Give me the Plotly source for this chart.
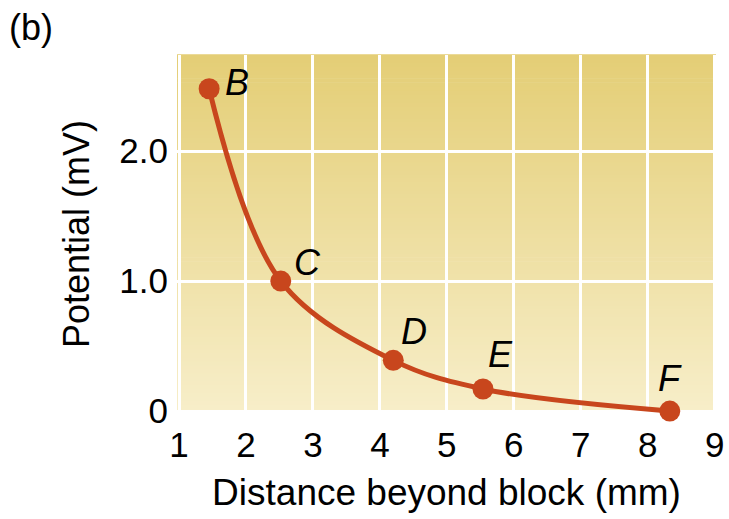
import plotly.graph_objects as go

# Measured potential beyond the block
point_labels = ["B", "C", "D", "E", "F"]
distance_mm = [1.45, 2.52, 4.2, 5.54, 8.33]
potential_mv = [2.48, 1.0, 0.39, 0.17, 0.0]

x_ticks = [1, 2, 3, 4, 5, 6, 7, 8, 9]
y_ticks = [0, 1, 2]
y_tick_text = ["0", "1.0", "2.0"]

# label offsets (px) relative to each point
label_dx = [28, 27, 21, 18, 0]
label_dy = [6, 19, 29, 34, 33]

FONT = "Liberation Sans, Arial, Helvetica, sans-serif"
CURVE = "#C8461D"

x_range = [0.97, 9.02]
y_range = [-0.015, 2.74]

fig = go.Figure()

fig.add_trace(go.Scatter(
    x=distance_mm, y=potential_mv,
    mode="lines+markers",
    line=dict(color=CURVE, width=5, shape="spline", smoothing=1.0),
    marker=dict(color=CURVE, size=21),
    cliponaxis=False,
    hoverinfo="skip",
    showlegend=False,
))

# vertical yellow gradient for the plotting area, as thin bands
top_rgb = (228, 206, 118)
bot_rgb = (247, 238, 201)
n_bands = 90
shapes = []
for i in range(n_bands):
    t = i / (n_bands - 1)
    r, g, b = (round(bot_rgb[k] + (top_rgb[k] - bot_rgb[k]) * t) for k in range(3))
    shapes.append(dict(
        type="rect", xref="paper", yref="paper",
        x0=0, x1=1, y0=i / n_bands, y1=(i + 1) / n_bands + 0.002,
        fillcolor=f"rgb({r},{g},{b})", line=dict(width=0), layer="below",
    ))

annotations = []
for lab, x, y, dx, dy in zip(point_labels, distance_mm, potential_mv, label_dx, label_dy):
    annotations.append(dict(
        x=x, y=y, xref="x", yref="y", text=f"<i>{lab}</i>", showarrow=False,
        xshift=dx, yshift=dy, font=dict(family=FONT, size=36, color="black"),
    ))
annotations.append(dict(
    x=0, y=1, xref="paper", yref="paper", xanchor="left", yanchor="top",
    xshift=-170, yshift=50, text="(b)", showarrow=False,
    font=dict(family=FONT, size=36, color="black"),
))

fig.update_layout(
    width=729, height=519,
    margin=dict(l=177, r=13, t=55, b=106),
    paper_bgcolor="white",
    plot_bgcolor="rgba(0,0,0,0)",
    shapes=shapes,
    annotations=annotations,
    font=dict(family=FONT, color="black"),
    xaxis=dict(
        range=x_range, tickvals=x_ticks, showgrid=True, automargin=False,
        gridcolor="white", gridwidth=2.5, zeroline=False, showline=False,
        ticks="", tickfont=dict(size=35), ticklabelstandoff=8,
        title=dict(text="Distance beyond block (mm)", font=dict(size=37), standoff=16),
    ),
    yaxis=dict(
        range=y_range, tickvals=y_ticks, ticktext=y_tick_text, showgrid=True,
        automargin=False,
        gridcolor="white", gridwidth=2.5, zeroline=False, showline=False,
        ticks="", tickfont=dict(size=35), ticklabelstandoff=8,
        title=dict(text="Potential (mV)", font=dict(size=36), standoff=18),
    ),
)

fig.write_html("out.html")
